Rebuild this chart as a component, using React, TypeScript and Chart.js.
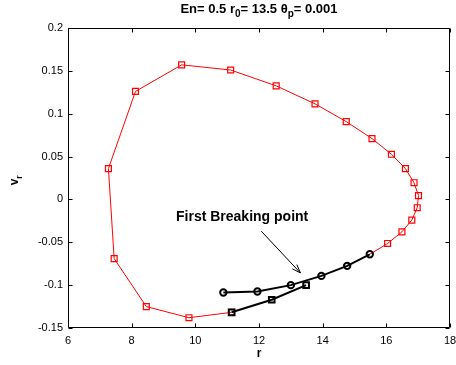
import React, { useEffect, useRef } from "react";
import { Chart, registerables } from "chart.js";

Chart.register(...registerables);

// Red trajectory (r, v_r)
const redR = [15.48, 16.04, 16.49, 16.8, 16.97, 17.01, 16.87, 16.6, 16.16, 15.55, 14.74, 13.76, 12.54, 11.11, 9.57, 8.12, 7.27, 7.45, 8.46, 9.8, 11.14];
const redV = [-0.064, -0.0514, -0.0378, -0.0241, -0.0097, 0.0045, 0.0195, 0.036, 0.0527, 0.071, 0.0908, 0.1115, 0.1325, 0.151, 0.157, 0.126, 0.036, -0.069, -0.125, -0.138, -0.1317];
// Black circles
const circR = [10.88, 11.95, 13.0, 13.96, 14.77, 15.48];
const circV = [-0.1086, -0.1075, -0.1, -0.0892, -0.0775, -0.064];
// Black squares
const sqR = [11.14, 12.4, 13.48];
const sqV = [-0.1317, -0.117, -0.1];

const xTicks = [6, 8, 10, 12, 14, 16, 18];
const yTicks = [-0.15, -0.1, -0.05, 0, 0.05, 0.1, 0.15, 0.2];
const yTickLabels = ["-0.15", "-0.1", "-0.05", "0", "0.05", "0.1", "0.15", "0.2"];

const annotationText = "First Breaking point";
const annotationAt = [11.47, -0.0206];
const arrowFrom = [12.07, -0.037];
const arrowTo = [13.3, -0.0857];

const toPts = (xs: number[], ys: number[]) => xs.map((x, i) => ({ x, y: ys[i] }));

const FONT = "'Liberation Sans', Arial, Helvetica, sans-serif";

const decor = {
  id: "decor",
  afterDraw(chart: any) {
    const { ctx, chartArea: a, scales } = chart;
    const xs = scales.x;
    const ys = scales.y;
    ctx.save();
    ctx.strokeStyle = "#000";
    ctx.lineWidth = 1;
    const L = Math.round(a.left) + 0.5;
    const R = Math.round(a.right) - 0.5;
    const T = Math.round(a.top) + 0.5;
    const B = Math.round(a.bottom) - 0.5;
    ctx.beginPath();
    ctx.rect(L, T, R - L, B - T);
    ctx.stroke();
    const tl = 4;
    ctx.beginPath();
    xTicks.forEach((v) => {
      const p = Math.round(xs.getPixelForValue(v)) + 0.5;
      ctx.moveTo(p, B);
      ctx.lineTo(p, B - tl);
      ctx.moveTo(p, T);
      ctx.lineTo(p, T + tl);
    });
    yTicks.forEach((v) => {
      const p = Math.round(ys.getPixelForValue(v)) + 0.5;
      ctx.moveTo(L, p);
      ctx.lineTo(L + tl, p);
      ctx.moveTo(R, p);
      ctx.lineTo(R - tl, p);
    });
    ctx.stroke();

    // Title with subscripts
    ctx.fillStyle = "#000";
    const big = `bold 13px ${FONT}`;
    const small = `bold 10px ${FONT}`;
    const segs: [string, boolean][] = [
      ["En= 0.5 r", false],
      ["0", true],
      ["= 13.5 \u03b8", false],
      ["p", true],
      ["= 0.001", false],
    ];
    let total = 0;
    segs.forEach(([t, s]) => {
      ctx.font = s ? small : big;
      total += ctx.measureText(t).width;
    });
    let cx = (a.left + a.right) / 2 - total / 2;
    ctx.textBaseline = "alphabetic";
    ctx.textAlign = "left";
    segs.forEach(([t, s]) => {
      ctx.font = s ? small : big;
      ctx.fillText(t, cx, s ? 17 : 13);
      cx += ctx.measureText(t).width;
    });

    // x label
    ctx.font = `bold 12px ${FONT}`;
    ctx.textAlign = "center";
    ctx.fillText("r", (a.left + a.right) / 2, 357);

    // y label rotated
    ctx.save();
    ctx.translate(18, 180);
    ctx.rotate(-Math.PI / 2);
    ctx.textAlign = "left";
    ctx.font = `bold 12px ${FONT}`;
    const vw = ctx.measureText("v").width;
    ctx.fillText("v", -vw / 2 - 2, 0);
    ctx.font = `bold 9px ${FONT}`;
    ctx.fillText("r", vw / 2 - 2, 4);
    ctx.restore();

    // annotation
    ctx.font = `bold 14px ${FONT}`;
    ctx.textAlign = "center";
    ctx.textBaseline = "middle";
    ctx.fillText(annotationText, xs.getPixelForValue(annotationAt[0]), ys.getPixelForValue(annotationAt[1]));
    const x1 = xs.getPixelForValue(arrowFrom[0]);
    const y1 = ys.getPixelForValue(arrowFrom[1]);
    const x2 = xs.getPixelForValue(arrowTo[0]);
    const y2 = ys.getPixelForValue(arrowTo[1]);
    ctx.lineWidth = 1;
    ctx.beginPath();
    ctx.moveTo(x1, y1);
    ctx.lineTo(x2, y2);
    const ang = Math.atan2(y2 - y1, x2 - x1);
    const hl = 9;
    ctx.moveTo(x2, y2);
    ctx.lineTo(x2 - hl * Math.cos(ang - 0.35), y2 - hl * Math.sin(ang - 0.35));
    ctx.moveTo(x2, y2);
    ctx.lineTo(x2 - hl * Math.cos(ang + 0.35), y2 - hl * Math.sin(ang + 0.35));
    ctx.stroke();
    ctx.restore();
  },
};

export default function App() {
  const ref = useRef<HTMLCanvasElement | null>(null);
  useEffect(() => {
    document.body.style.margin = "0";
    const canvas = ref.current;
    if (!canvas) return;
    const chart = new Chart(canvas, {
      type: "scatter",
      data: {
        datasets: [
          {
            data: toPts(circR, circV),
            showLine: true,
            borderColor: "#000",
            backgroundColor: "rgba(0,0,0,0)",
            borderWidth: 2,
            pointStyle: "circle",
            pointRadius: 3.2,
            pointBorderWidth: 2,
            pointBorderColor: "#000",
          },
          {
            data: toPts(sqR, sqV),
            showLine: true,
            borderColor: "#000",
            backgroundColor: "rgba(0,0,0,0)",
            borderWidth: 2,
            pointStyle: "rect",
            pointRadius: 4,
            pointBorderWidth: 2,
            pointBorderColor: "#000",
          },
          {
            data: toPts(redR, redV),
            showLine: true,
            borderColor: "#ff0000",
            backgroundColor: "rgba(0,0,0,0)",
            borderWidth: 1,
            pointStyle: "rect",
            pointRadius: redR.map((_, i) => (i === 0 ? 0 : 4.2)),
            pointBorderWidth: 1.2,
            pointBorderColor: "#ff0000",
          },
        ],
      },
      options: {
        responsive: false,
        animation: false,
        layout: { padding: { left: 0, top: 28, right: 3.5, bottom: 0 } },
        plugins: { legend: { display: false }, tooltip: { enabled: false }, title: { display: false } },
        scales: {
          x: {
            type: "linear",
            min: 6,
            max: 18,
            grid: { display: false, drawTicks: false },
            border: { display: false },
            afterBuildTicks: (s: any) => {
              s.ticks = xTicks.map((v) => ({ value: v }));
            },
            ticks: {
              color: "#000",
              padding: 6,
              maxRotation: 0,
              font: { family: FONT, size: 11 },
              callback: (v: any) => String(v),
            },
            afterFit: (s: any) => {
              s.height = 37;
              s.paddingLeft = 0;
              s.paddingRight = 0;
            },
          },
          y: {
            type: "linear",
            min: -0.15,
            max: 0.2,
            grid: { display: false, drawTicks: false },
            border: { display: false },
            afterBuildTicks: (s: any) => {
              s.ticks = yTicks.map((v) => ({ value: v }));
            },
            ticks: {
              color: "#000",
              padding: 5,
              font: { family: FONT, size: 11 },
              callback: (v: any) => {
                const i = yTicks.findIndex((t) => Math.abs(t - v) < 1e-9);
                return i >= 0 ? yTickLabels[i] : "";
              },
            },
            afterFit: (s: any) => {
              s.width = 68;
              s.paddingTop = 0;
              s.paddingBottom = 0;
            },
          },
        },
      },
      plugins: [decor],
    });
    return () => chart.destroy();
  }, []);
  return (
    <div style={{ width: 456, height: 365 }}>
      <canvas ref={ref} width={456} height={365} style={{ display: "block" }} />
    </div>
  );
}
